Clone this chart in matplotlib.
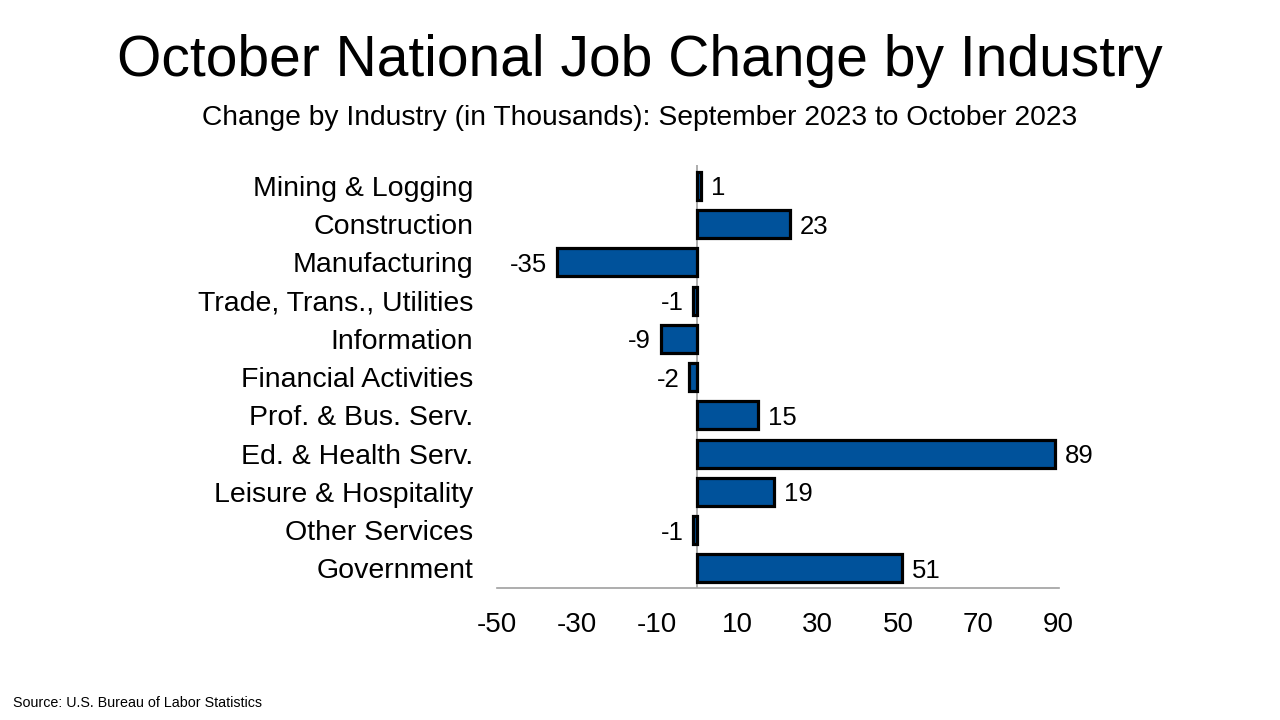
import numpy as np
import matplotlib.pyplot as plt

plt.rcParams['font.family'] = ['Liberation Sans', 'DejaVu Sans']

industries = ['Mining & Logging', 'Construction', 'Manufacturing',
              'Trade, Trans., Utilities', 'Information', 'Financial Activities',
              'Prof. & Bus. Serv.', 'Ed. & Health Serv.', 'Leisure & Hospitality',
              'Other Services', 'Government']
change = [1, 23, -35, -1, -9, -2, 15, 89, 19, -1, 51]
ticks = [-50, -30, -10, 10, 30, 50, 70, 90]

fig = plt.figure(figsize=(12.8, 7.2), dpi=100)
ax = fig.add_axes([0.388, 0.183, 0.439, 0.588])

y = np.arange(len(industries))
ax.barh(y, change, height=0.73, color='#00529B', edgecolor='black', linewidth=2.3, zorder=2)
ax.axvline(0, color='#a0a0a0', linewidth=1.2, zorder=1)

for yi, v in zip(y, change):
    if v >= 0:
        ax.text(v + 2.5, yi, str(v), va='center_baseline', ha='left', fontsize=18.5)
    else:
        ax.text(v - 2.5, yi, str(v), va='center_baseline', ha='right', fontsize=18.5)

ax.set_xlim(-50, 90)
ax.set_ylim(10.52, -0.55)
ax.set_xticks(ticks)
ax.set_xticklabels([str(t) for t in ticks], fontsize=20)
ax.set_yticks(y)
ax.set_yticklabels(industries, fontsize=20.5)
ax.tick_params(axis='both', length=0)
ax.tick_params(axis='x', pad=17)
ax.tick_params(axis='y', pad=17)
for s in ['top', 'right', 'left']:
    ax.spines[s].set_visible(False)
ax.spines['bottom'].set_color('#a0a0a0')
ax.spines['bottom'].set_linewidth(1.2)

fig.text(0.5, 0.915, 'October National Job Change by Industry', ha='center', va='center', fontsize=41)
fig.text(0.5, 0.836, 'Change by Industry (in Thousands): September 2023 to October 2023', ha='center', va='center', fontsize=20.3)
fig.text(0.01, 0.024, 'Source: U.S. Bureau of Labor Statistics', ha='left', va='center', fontsize=10.3)

fig.savefig('out.png', dpi=100)
